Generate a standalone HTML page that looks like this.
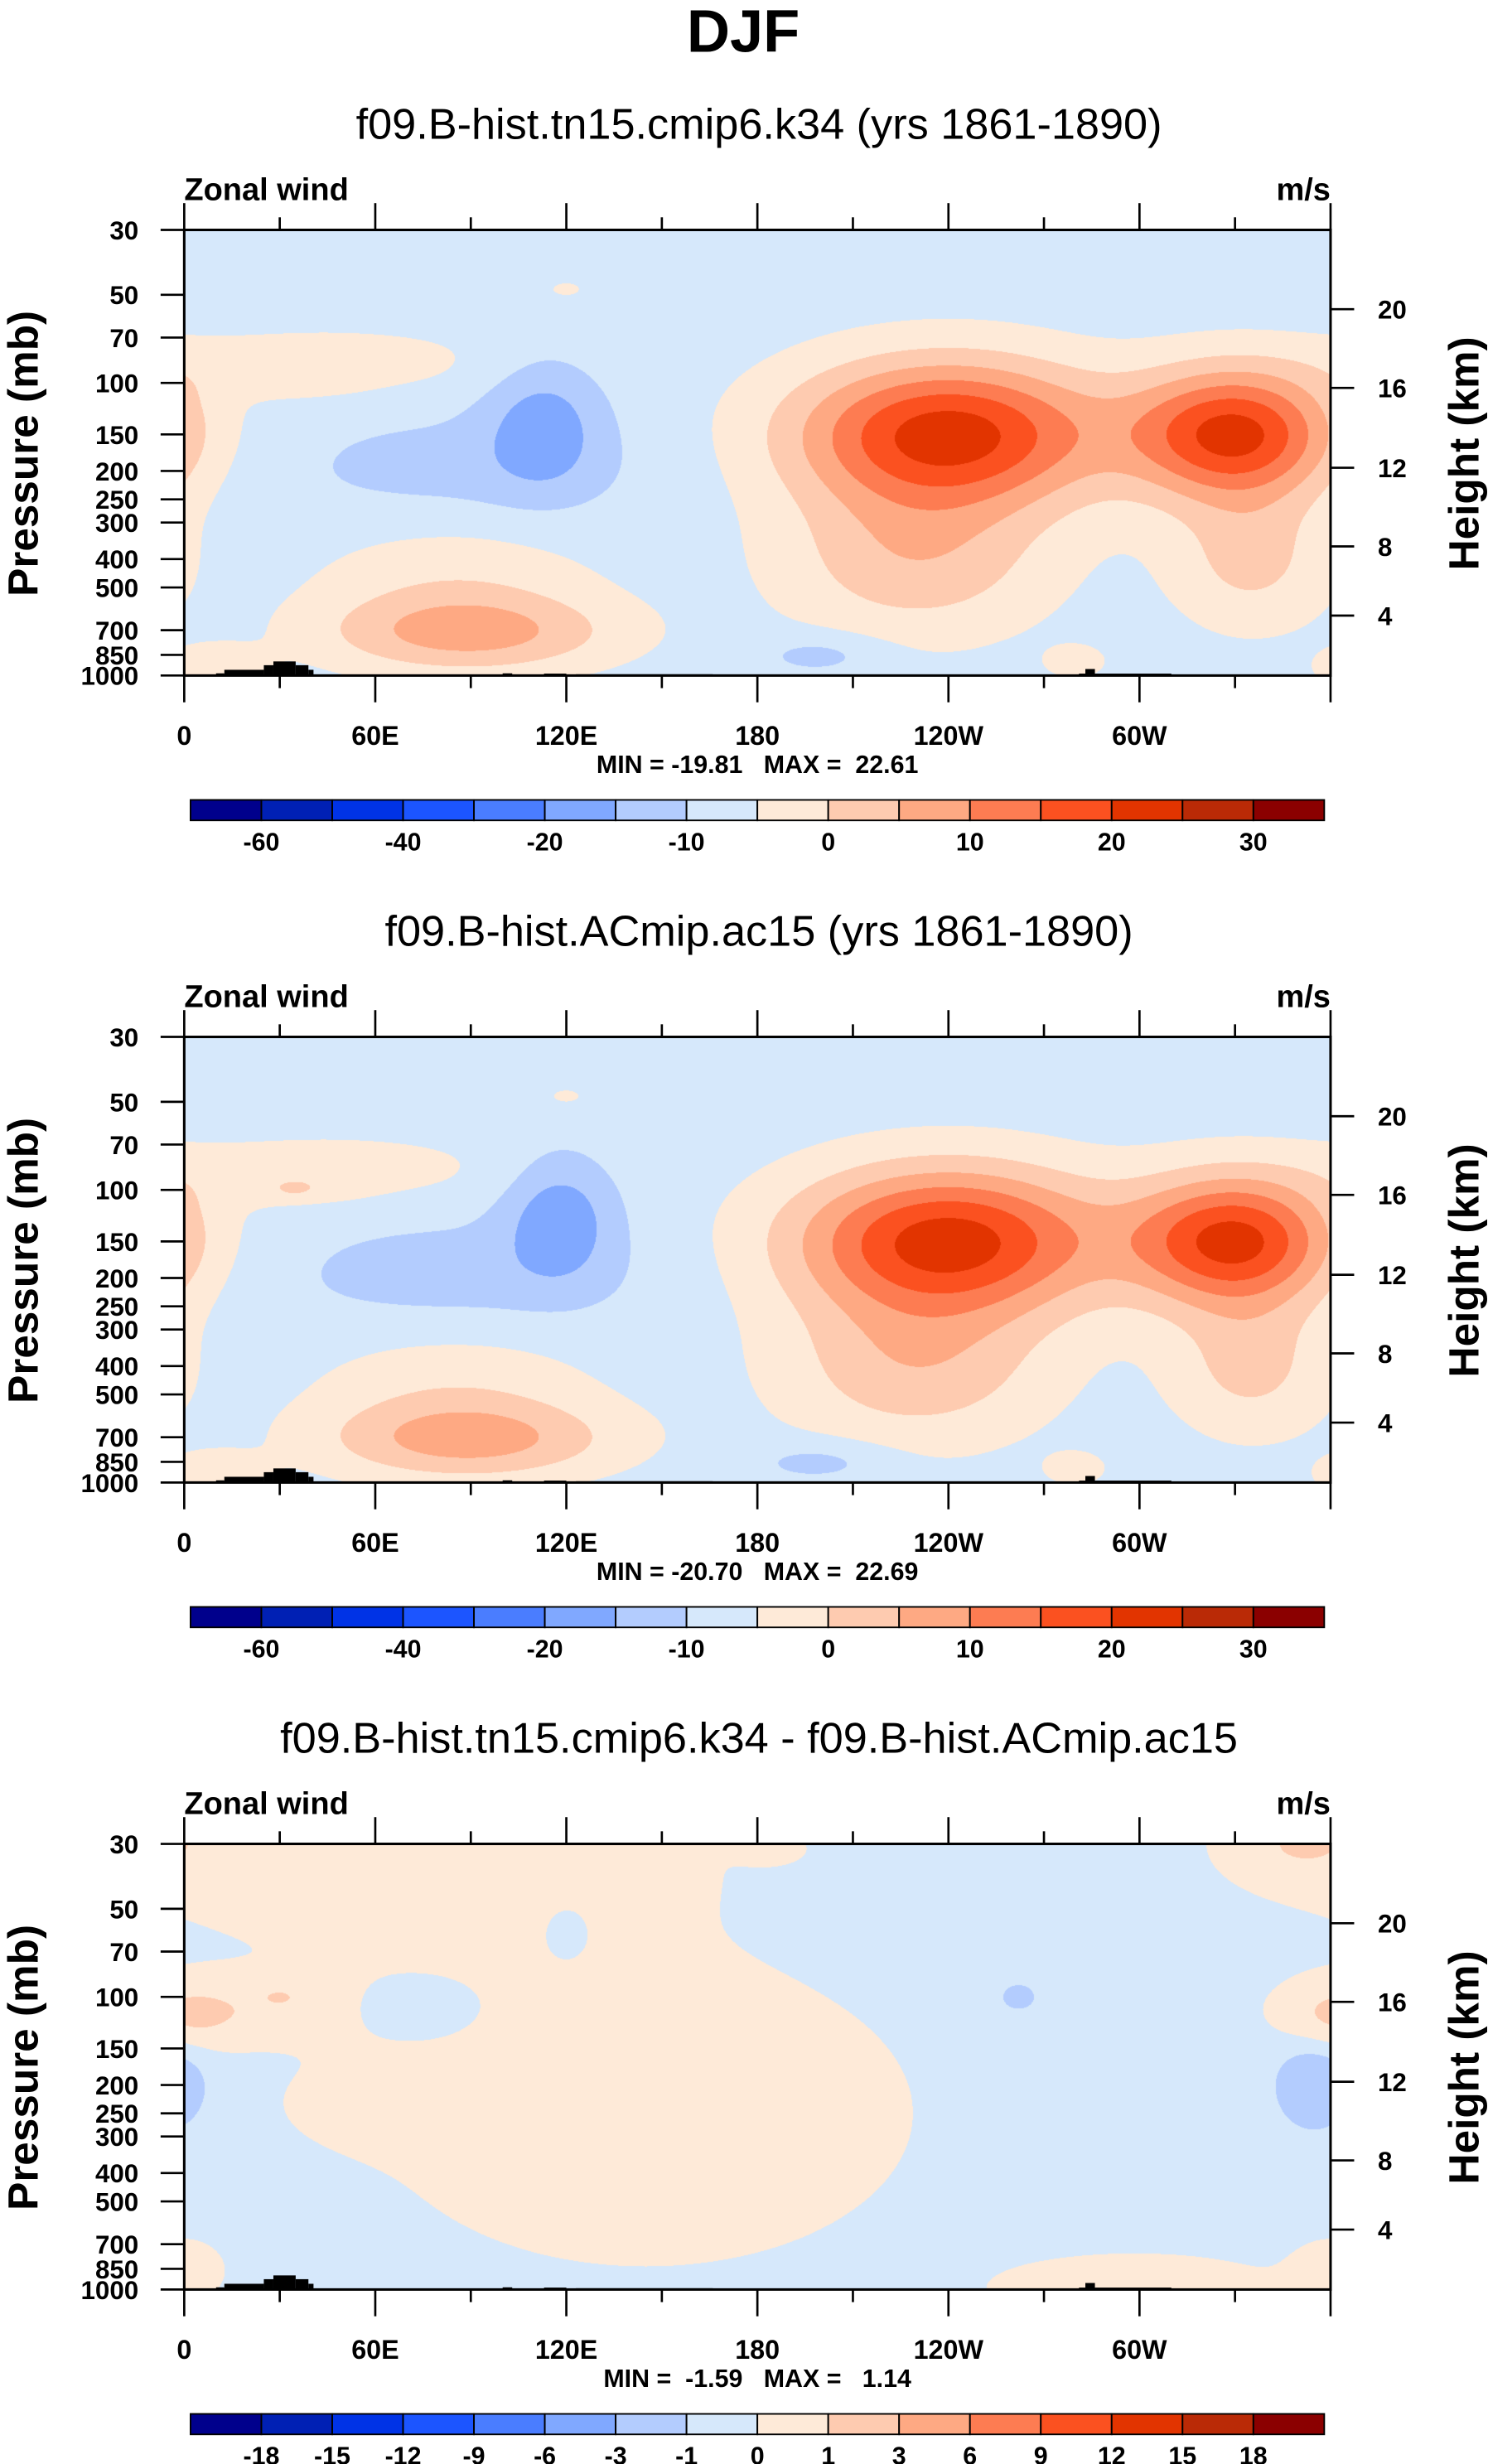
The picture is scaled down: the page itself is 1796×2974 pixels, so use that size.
<!DOCTYPE html>
<html><head><meta charset="utf-8">
<style>
html,body{margin:0;padding:0;background:#fff;}
#wrap{position:relative;width:1796px;height:2974px;overflow:hidden;}
canvas{position:absolute;}
svg{position:absolute;left:0;top:0;}
text{font-family:"Liberation Sans",Arial,sans-serif;fill:#000;white-space:pre;}
.b{font-weight:bold;}
</style></head>
<body>
<div id="wrap">
<canvas id="c0"></canvas>
<canvas id="c1"></canvas>
<canvas id="c2"></canvas>
<svg id="svg" width="1796" height="2974" viewBox="0 0 945 1564.81">
<text x="472" y="33" text-anchor="middle" class="b" font-size="38">DJF</text>
</svg>
</div>
<script>
// ---------- data ----------
const pressureTicks = [30,50,70,100,150,200,250,300,400,500,700,850,1000];
const heightTicks = [4,8,12,16,20];
const heightTickP = [624,362,195,104,56];
const lonTickLabels = ["0","60E","120E","180","120W","60W"];
const lonTickValues = [0,60,120,180,240,300];
const colors = ['#00008c','#0020b4','#0033e6','#1c55ff','#4a7dff','#80a8ff','#b3ccfe','#d6e8fb','#feead8','#fecbb0','#fea983','#fd7c52','#fb5120','#e23400','#ba2a06','#8b0000'];
const levelsAbs = [-60,-50,-40,-30,-20,-15,-10,-5,0,5,10,15,20,25,30];
const labelsAbs = ["-60","","-40","","-20","","-10","","0","","10","","20","","30"];
const levelsDiff = [-18,-15,-12,-9,-6,-3,-1,0,1,3,6,9,12,15,18];
const labelsDiff = ["-18","-15","-12","-9","-6","-3","-1","0","1","3","6","9","12","15","18"];
const subtitles = ["f09.B-hist.tn15.cmip6.k34 (yrs 1861-1890)","f09.B-hist.ACmip.ac15 (yrs 1861-1890)","f09.B-hist.tn15.cmip6.k34 - f09.B-hist.ACmip.ac15"];
const minmax = ["MIN = -19.81   MAX =  22.61","MIN = -20.70   MAX =  22.69","MIN =  -1.59   MAX =   1.14"];
const fieldBase = [-7.5,-7.5,-0.4];
// blobs: lon (deg), pressure (mb), amplitude (m/s), lon width (deg), log-p width
const p1Lon = [240,230,330,335,113,85,45,35,90,85,200,10,280,120];
const p1P   = [150,400,150,400,140,200,85,100,720,500,850,950,900,48];
const p1Amp = [30,11,29,9,-9.5,-4.5,5,3,12,6,-5,6,5,4];
const p1SL  = [48,42,32,25,18,55,55,20,45,45,20,15,10,6];
const p1SZ  = [0.25,0.27,0.22,0.24,0.22,0.2,0.12,0.05,0.13,0.25,0.07,0.08,0.06,0.03];
const p2Lon = [240,230,330,335,118,85,45,35,90,85,200,10,280,120,35];
const p2P   = [150,400,150,400,125,200,85,100,720,500,850,950,900,48,100];
const p2Amp = [30,11,29,9,-10.5,-5,5,3,12,6,-5,6,5,4,2];
const p2SL  = [48,42,32,25,17,55,55,20,45,45,22,15,10,6,6];
const p2SZ  = [0.25,0.27,0.22,0.24,0.21,0.2,0.12,0.05,0.13,0.25,0.07,0.08,0.06,0.03,0.03];
const p3Lon = [70,145,20,300,350,360,0,73,120,355,262,30,185,60];
const p3P   = [30,250,110,1000,30,120,850,110,60,200,100,100,31,230];
const p3Amp = [1.2,1.2,1.0,1.1,1.0,1.0,1.0,-1.0,-0.8,-1.8,-1.3,0.8,0.6,0.6];
const p3SL  = [90,80,35,45,20,15,12,15,6,12,6,4,10,30];
const p3SZ  = [0.35,0.5,0.12,0.12,0.12,0.12,0.1,0.08,0.08,0.15,0.05,0.02,0.05,0.15];
// topography steps: lon start, lon end, surface pressure
const topoLon0 = [10,12.6,25,28,35,39,100,113,123,281,283,286];
const topoLon1 = [12.6,25,28,35,39,40.6,103,120,166,283,286,310];
const topoP    = [983,956,922,895,922,956,983,985,990,985,950,985];

// ---------- layout ----------
const S = 1796/945;
const X0=117, X1=845, Y0=146, Y1=429;
const OFF=[0,512.5,1025];
const LP0=Math.log10(30), LP1=Math.log10(1000);
function xLon(l){return X0+(l/360)*(X1-X0);}
function yP(p,o){return o+Y0+(Math.log10(p)-LP0)/(LP1-LP0)*(Y1-Y0);}
const NS="http://www.w3.org/2000/svg";
const svg=document.getElementById('svg');
function el(tag,attrs,txt){const e=document.createElementNS(NS,tag);for(const k in attrs)e.setAttribute(k,attrs[k]);if(txt!==undefined)e.textContent=txt;svg.appendChild(e);return e;}
function hex(c){return [parseInt(c.substr(1,2),16),parseInt(c.substr(3,2),16),parseInt(c.substr(5,2),16)];}
const rgb=colors.map(hex);

function drawField(ci,base,L,P,A,SL,SZ,levels){
  const cv=document.getElementById('c'+ci);
  const left=Math.round(X0*S), top=Math.round((Y0+OFF[ci])*S);
  const W=Math.round(X1*S)-left, H=Math.round((Y1+OFF[ci])*S)-top;
  cv.width=W;cv.height=H;cv.style.left=left+'px';cv.style.top=top+'px';
  const ctx=cv.getContext('2d');const img=ctx.createImageData(W,H);const d=img.data;
  const zs=P.map(p=>Math.log10(p));
  const gy=[];
  for(let y=0;y<H;y++){const z=LP0+(y+0.5)/H*(LP1-LP0);gy.push(zs.map((zz,k)=>Math.exp(-Math.pow((z-zz)/SZ[k],2))));}
  const gx=[];
  for(let x=0;x<W;x++){const lon=(x+0.5)/W*360;gx.push(L.map((ll,k)=>{let dl=Math.abs(lon-ll);if(dl>180)dl=360-dl;return Math.exp(-Math.pow(dl/SL[k],2));}));}
  for(let y=0;y<H;y++){const ry=gy[y];for(let x=0;x<W;x++){const rx=gx[x];let v=base;for(let k=0;k<A.length;k++)v+=A[k]*rx[k]*ry[k];
    let b=0;while(b<levels.length&&v>=levels[b])b++;const c=rgb[b];const i=(y*W+x)*4;d[i]=c[0];d[i+1]=c[1];d[i+2]=c[2];d[i+3]=255;}}
  ctx.putImageData(img,0,0);
}
drawField(0,fieldBase[0],p1Lon,p1P,p1Amp,p1SL,p1SZ,levelsAbs);
drawField(1,fieldBase[1],p2Lon,p2P,p2Amp,p2SL,p2SZ,levelsAbs);
drawField(2,fieldBase[2],p3Lon,p3P,p3Amp,p3SL,p3SZ,levelsDiff);

for(let i=0;i<3;i++){
  const o=OFF[i];
  let t=el('text',{x:482,y:88+o,'text-anchor':'middle','font-size':27.5});t.textContent=subtitles[i];
  
  
  t=el('text',{x:117,y:127+o,'font-size':20,class:'b'},'Zonal wind');
  
  
  t=el('text',{x:845,y:127+o,'font-size':20,class:'b','text-anchor':'end'},'m/s');
  
  
  for(let k=0;k<topoLon0.length;k++){
    const r=el('rect',{x:xLon(topoLon0[k]),y:yP(topoP[k],o),width:xLon(topoLon1[k])-xLon(topoLon0[k]),height:Y1+o-yP(topoP[k],o)+0.5,fill:'#000'});
    
    
  }
  let f=el('rect',{x:X0,y:Y0+o,width:X1-X0,height:Y1-Y0,fill:'none',stroke:'#000','stroke-width':1.6});
  
  
  for(let l=0;l<=360;l+=30){
    const x=xLon(l);const len=(l%60===0)?17:8;
    el('line',{x1:x,x2:x,y1:Y0+o,y2:Y0+o-len,stroke:'#000','stroke-width':1.4});
    el('line',{x1:x,x2:x,y1:Y1+o,y2:Y1+o+len,stroke:'#000','stroke-width':1.4});
  }
  for(let k=0;k<lonTickLabels.length;k++){
    t=el('text',{x:xLon(lonTickValues[k]),y:473+o,'text-anchor':'middle','font-size':17,class:'b'},lonTickLabels[k]);
    
    
  }
  for(const p of pressureTicks){
    const y=yP(p,o);
    el('line',{x1:X0,x2:X0-15,y1:y,y2:y,stroke:'#000','stroke-width':1.4});
    t=el('text',{x:88,y:y+6,'text-anchor':'end','font-size':16.5,class:'b'},String(p));
    
    
  }
  for(let k=0;k<heightTicks.length;k++){
    const y=yP(heightTickP[k],o);
    el('line',{x1:X1,x2:X1+15,y1:y,y2:y,stroke:'#000','stroke-width':1.4});
    t=el('text',{x:875,y:y+6,'font-size':16.5,class:'b'},String(heightTicks[k]));
    
    
  }
  t=el('text',{x:0,y:0,'font-size':27,class:'b','text-anchor':'middle',transform:`translate(24,${288+o}) rotate(-90)`},'Pressure (mb)');
  
  
  t=el('text',{x:0,y:0,'font-size':27,class:'b','text-anchor':'middle',transform:`translate(939,${288+o}) rotate(-90)`},'Height (km)');
  
  
  t=el('text',{x:481,y:491+o,'text-anchor':'middle','font-size':16,class:'b'},minmax[i]);
  
  
  const bw=(841-121)/16;
  for(let k=0;k<16;k++){
    const r=el('rect',{x:121+k*bw,y:508+o,width:bw,height:13,fill:colors[k],stroke:'#000','stroke-width':1});
    
    
  }
  const labs=i<2?labelsAbs:labelsDiff;
  for(let k=0;k<labs.length;k++){
    if(!labs[k])continue;
    t=el('text',{x:121+(k+1)*bw,y:540+o,'text-anchor':'middle','font-size':16,class:'b'},labs[k]);
    
    
  }
}
</script>
</body></html>
